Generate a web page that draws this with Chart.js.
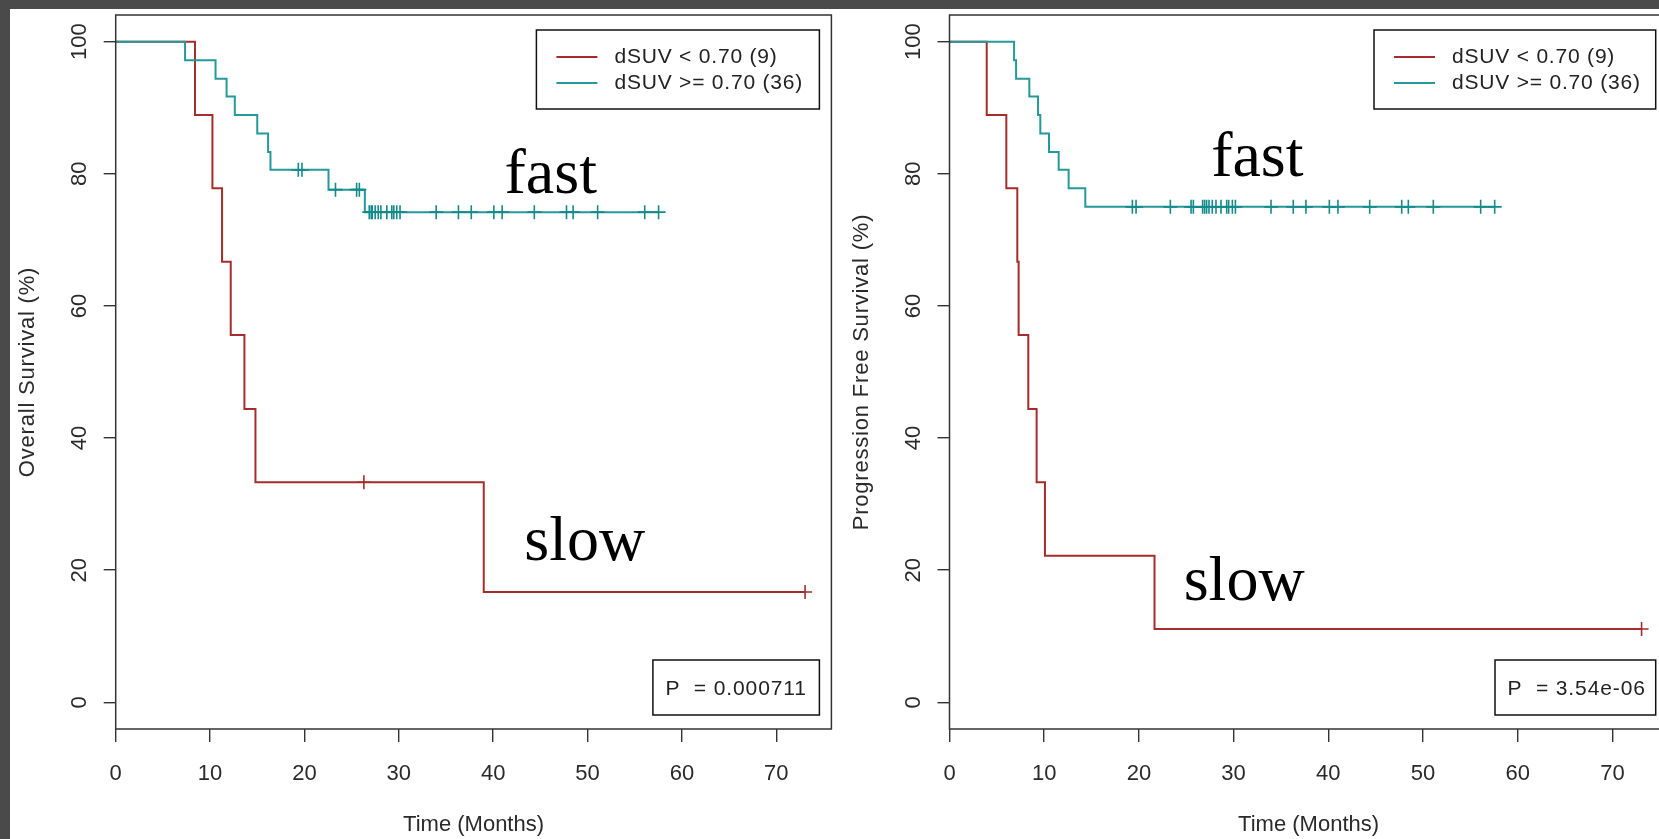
<!DOCTYPE html>
<html>
<head>
<meta charset="utf-8">
<script src="https://cdn.jsdelivr.net/npm/chart.js@4.4.0/dist/chart.umd.min.js"></script>
<style>
html,body{margin:0;padding:0;width:1659px;height:839px;overflow:hidden;background:#4a4a4a;}
#paper{position:absolute;left:10px;top:9px;width:1649px;height:830px;background:#ffffff;}
#c1{position:absolute;left:0;top:0;width:840px;height:839px;}
#c2{position:absolute;left:840px;top:0;width:860px;height:839px;}
</style>
</head>
<body>
<div id="paper"></div>
<canvas id="c1" width="840" height="839"></canvas>
<canvas id="c2" width="860" height="839"></canvas>
<script>
// ---------- data ----------
const xTicks = [0, 10, 20, 30, 40, 50, 60, 70];
const xTickLabels = ['0', '10', '20', '30', '40', '50', '60', '70'];
const yTicks = [0, 20, 40, 60, 80, 100];
const yTickLabels = ['0', '20', '40', '60', '80', '100'];
const legendLabels = ['dSUV < 0.70 (9)', 'dSUV >= 0.70 (36)'];
const groupWords = ['fast', 'slow'];

// Overall survival (left panel)
const osSlowTimes = [0, 8.4, 10.25, 11.27, 12.19, 13.64, 14.81, 39.0, 73.05];
const osSlowSurv  = [100, 88.9, 77.8, 66.7, 55.6, 44.4, 33.3, 16.7, 16.7];
const osSlowCensor = [26.3, 73.05];
const osFastTimes = [0, 7.35, 10.58, 11.75, 12.62, 15.0, 16.15, 16.4, 22.55, 26.4, 57.53];
const osFastSurv  = [100, 97.2, 94.4, 91.7, 88.9, 86.1, 83.3, 80.6, 77.6, 74.2, 74.2];
const osFastCensor = [19.35, 19.74, 23.29, 25.53, 25.82, 26.87, 27.08, 27.18, 27.5, 27.82,
  28.1, 28.73, 29.26, 29.47, 29.78, 30.13, 33.96, 36.32, 37.68, 40.07, 40.95, 44.36,
  47.77, 48.47, 51.07, 56.06, 57.53];
const osPText = 'P  = 0.000711';
const osYTitle = 'Overall Survival (%)';

// Progression free survival (right panel)
const pfsSlowTimes = [0, 3.93, 6.0, 7.16, 7.30, 8.32, 9.2, 10.08, 21.65, 73.08];
const pfsSlowSurv  = [100, 88.9, 77.8, 66.7, 55.6, 44.4, 33.3, 22.2, 11.1, 11.1];
const pfsSlowCensor = [73.08];
const pfsFastTimes = [0, 6.82, 7.03, 8.43, 9.35, 9.59, 10.51, 11.53, 12.58, 14.34, 57.57];
const pfsFastSurv  = [100, 97.2, 94.4, 91.7, 88.9, 86.1, 83.3, 80.6, 77.8, 75.0, 75.0];
const pfsFastCensor = [19.31, 19.70, 23.32, 25.51, 25.75, 26.73, 26.94, 27.15, 27.4, 27.75,
  28.14, 28.67, 29.27, 29.48, 29.87, 30.19, 33.95, 36.30, 37.64, 40.11, 41.02, 44.37,
  47.75, 48.45, 51.09, 56.09, 57.57];
const pfsPText = 'P  = 3.54e-06';
const pfsYTitle = 'Progression Free Survival (%)';

const xTitle = 'Time (Months)';

// ---------- drawing ----------
const RED = '#a52c2c';
const TEAL = '#259999';
const TEAL_MARK = '#128a8a';
const SANS = '"Liberation Sans", Arial, Helvetica, sans-serif';
const SERIF = '"Liberation Serif", "Times New Roman", serif';

function curve(times, surv) {
  return times.map((t, i) => ({ x: t, y: surv[i] }));
}
function survAt(times, surv, t) {
  let v = surv[0];
  for (let i = 0; i < times.length; i++) if (times[i] <= t) v = surv[i];
  return v;
}
function marks(times, surv, cens) {
  return cens.map(t => ({ x: t, y: survAt(times, surv, t) }));
}
function spacing(ctx, s) {
  if ('letterSpacing' in ctx) ctx.letterSpacing = s;
}

const decor = {
  id: 'decor',
  afterDatasetsDraw(chart) {
    const o = chart.options.plugins.decor;
    const ctx = chart.ctx, ca = chart.chartArea;
    const xs = chart.scales.x, ys = chart.scales.y;
    ctx.save();
    // plot box
    ctx.strokeStyle = '#333';
    ctx.lineWidth = 1.5;
    ctx.strokeRect(ca.left, ca.top, ca.right - ca.left, ca.bottom - ca.top);

    // tick labels
    ctx.fillStyle = '#2a2a2a';
    ctx.font = '22px ' + SANS;
    ctx.textAlign = 'center';
    ctx.textBaseline = 'alphabetic';
    spacing(ctx, '0px');
    xTicks.forEach((v, i) => ctx.fillText(xTickLabels[i], xs.getPixelForValue(v), ca.bottom + 51));
    yTicks.forEach((v, i) => {
      ctx.save();
      ctx.translate(ca.left - 36, ys.getPixelForValue(v));
      ctx.rotate(-Math.PI / 2);
      ctx.textBaseline = 'middle';
      ctx.fillText(yTickLabels[i], 0, 0);
      ctx.restore();
    });
    // axis titles
    ctx.fillText(xTitle, (ca.left + ca.right) / 2, ca.bottom + 102);
    ctx.save();
    ctx.translate(ca.left - 88, (ca.top + ca.bottom) / 2);
    ctx.rotate(-Math.PI / 2);
    ctx.textBaseline = 'middle';
    spacing(ctx, '0.8px');
    ctx.fillText(o.yTitle, 0, 0);
    ctx.restore();

    // legend
    const bw = o.legW, bh = 79;
    const bx = ca.right - 12 - bw, by = ca.top + 15;
    ctx.strokeStyle = '#111';
    ctx.lineWidth = 1.5;
    ctx.strokeRect(bx, by, bw, bh);
    const rows = [[RED, legendLabels[0], by + 27], [TEAL, legendLabels[1], by + 53]];
    ctx.font = '21px ' + SANS;
    ctx.textAlign = 'left';
    ctx.textBaseline = 'middle';
    spacing(ctx, '0.8px');
    rows.forEach(r => {
      ctx.strokeStyle = r[0];
      ctx.lineWidth = 2;
      ctx.beginPath();
      ctx.moveTo(bx + 20, r[2]);
      ctx.lineTo(bx + 61, r[2]);
      ctx.stroke();
      ctx.fillStyle = '#222';
      ctx.fillText(r[1], bx + 78, r[2]);
    });

    // p-value box
    const pw = o.pWidth, ph = 55;
    const px = ca.right - 12 - pw, py = ca.bottom - 14 - ph;
    ctx.strokeStyle = '#111';
    ctx.lineWidth = 1.5;
    ctx.strokeRect(px, py, pw, ph);
    ctx.fillStyle = '#222';
    spacing(ctx, '0.9px');
    ctx.fillText(o.pText, px + 12.5, py + 29);
    spacing(ctx, '0px');

    // group words
    ctx.fillStyle = '#000';
    ctx.font = '64px ' + SERIF;
    ctx.textBaseline = 'alphabetic';
    ctx.fillText(groupWords[0], xs.getPixelForValue(o.fastAt[0]), ys.getPixelForValue(o.fastAt[1]));
    ctx.fillText(groupWords[1], xs.getPixelForValue(o.slowAt[0]), ys.getPixelForValue(o.slowAt[1]));
    ctx.restore();
  }
};

function makePanel(id, o) {
  const el = document.getElementById(id);
  return new Chart(el, {
    type: 'line',
    data: {
      datasets: [
        { type: 'scatter', data: marks(o.fastT, o.fastS, o.fastC), showLine: false,
          pointStyle: 'cross', pointRadius: 7, pointBorderWidth: 1.6,
          borderColor: TEAL_MARK, backgroundColor: TEAL_MARK },
        { data: curve(o.fastT, o.fastS), stepped: 'before', borderColor: TEAL,
          borderWidth: 2, pointRadius: 0, fill: false, tension: 0 },
        { type: 'scatter', data: marks(o.slowT, o.slowS, o.slowC), showLine: false,
          pointStyle: 'cross', pointRadius: 7, pointBorderWidth: 1.6,
          borderColor: RED, backgroundColor: RED },
        { data: curve(o.slowT, o.slowS), stepped: 'before', borderColor: RED,
          borderWidth: 2, pointRadius: 0, fill: false, tension: 0 }
      ]
    },
    options: {
      responsive: false,
      animation: false,
      events: [],
      layout: { padding: { left: o.padL, top: 15, right: o.padR, bottom: 97 } },
      plugins: {
        legend: { display: false },
        tooltip: { enabled: false },
        decor: { yTitle: o.yTitle, pText: o.pText, pWidth: o.pWidth, legW: o.legW,
                 fastAt: o.fastAt, slowAt: o.slowAt }
      },
      scales: {
        x: {
          type: 'linear', min: 0, max: 75.84,
          afterBuildTicks: s => { s.ticks = xTicks.map(v => ({ value: v })); },
          afterFit: s => { s.height = 13; },
          ticks: { display: false },
          grid: { drawOnChartArea: false, drawTicks: true, tickLength: 13, color: '#333', lineWidth: 1.4 },
          border: { display: false }
        },
        y: {
          type: 'linear', min: -4.04, max: 104.04,
          afterBuildTicks: s => { s.ticks = yTicks.map(v => ({ value: v })); },
          afterFit: s => { s.width = 12; },
          ticks: { display: false },
          grid: { drawOnChartArea: false, drawTicks: true, tickLength: 12, color: '#333', lineWidth: 1.4 },
          border: { display: false }
        }
      }
    },
    plugins: [decor]
  });
}

makePanel('c1', {
  padL: 103.7, padR: 4.6,
  fastT: osFastTimes, fastS: osFastSurv, fastC: osFastCensor,
  slowT: osSlowTimes, slowS: osSlowSurv, slowC: osSlowCensor,
  yTitle: osYTitle, pText: osPText, pWidth: 166.5, legW: 283,
  fastAt: [41.2, 77.14], slowAt: [43.3, 21.54]
});
makePanel('c2', {
  padL: 97.5, padR: 32.3,
  fastT: pfsFastTimes, fastS: pfsFastSurv, fastC: pfsFastCensor,
  slowT: pfsSlowTimes, slowS: pfsSlowSurv, slowC: pfsSlowCensor,
  yTitle: pfsYTitle, pText: pfsPText, pWidth: 160.7, legW: 281.7,
  fastAt: [27.63, 79.72], slowAt: [24.73, 15.49]
});
</script>
</body>
</html>
